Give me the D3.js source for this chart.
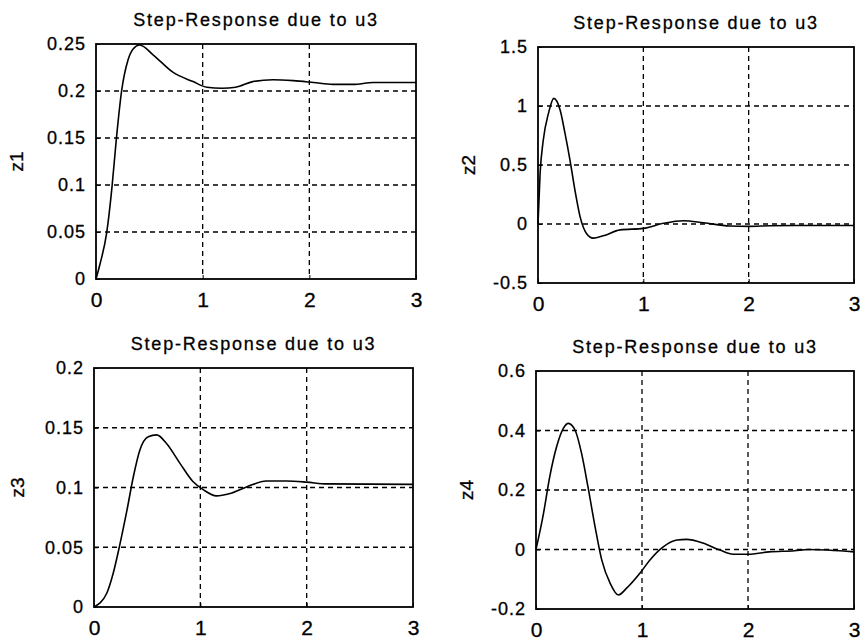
<!DOCTYPE html>
<html>
<head>
<meta charset="utf-8">
<script src="https://d3js.org/d3.v7.min.js"></script>
<style>
  html, body { margin: 0; padding: 0; background: #fff; }
  svg { display: block; }
  text { font-family: "Liberation Sans", Arial, sans-serif; fill: #000; }
</style>
</head>
<body>
<script>
// ---------- data ----------
const titleText = "Step-Response due to u3";
const yLabels = ["z1", "z2", "z3", "z4"];
const xTicks = [0, 1, 2, 3];

const t1 = [0, 0.04, 0.1, 0.15, 0.19, 0.24, 0.3, 0.35, 0.41, 0.54, 0.72, 0.91, 1.04, 1.18, 1.31, 1.47, 1.66, 1.85, 2.04, 2.22, 2.41, 2.6, 3.0];
const z1 = [0, 0.017, 0.049, 0.098, 0.148, 0.2, 0.233, 0.245, 0.249, 0.238, 0.220, 0.210, 0.204, 0.203, 0.204, 0.210, 0.212, 0.211, 0.209, 0.207, 0.207, 0.209, 0.209];
const yTicks1 = [0, 0.05, 0.1, 0.15, 0.2, 0.25];

const t2 = [0, 0.02, 0.05, 0.1, 0.15, 0.21, 0.256, 0.304, 0.35, 0.4, 0.46, 0.525, 0.62, 0.78, 1.0, 1.19, 1.38, 1.57, 1.82, 2.0, 2.2, 2.45, 3.0];
const z2 = [0, 0.43, 0.71, 0.94, 1.065, 0.966, 0.77, 0.54, 0.29, 0.06, -0.08, -0.12, -0.10, -0.05, -0.037, 0.006, 0.028, 0.011, -0.017, -0.02, -0.015, -0.013, -0.013];
const yTicks2 = [-0.5, 0, 0.5, 1, 1.5];

const t3 = [0, 0.12, 0.18, 0.245, 0.31, 0.37, 0.43, 0.51, 0.59, 0.68, 0.81, 0.93, 1.03, 1.15, 1.28, 1.44, 1.62, 1.81, 2.0, 2.19, 3.0];
const z3 = [0, 0.0115, 0.028, 0.053, 0.081, 0.109, 0.131, 0.1425, 0.144, 0.137, 0.120, 0.105, 0.098, 0.093, 0.095, 0.1007, 0.1054, 0.1054, 0.1045, 0.103, 0.1026];
const yTicks3 = [0, 0.05, 0.1, 0.15, 0.2];

const t4 = [0, 0.07, 0.13, 0.195, 0.258, 0.305, 0.37, 0.43, 0.49, 0.557, 0.62, 0.70, 0.777, 0.855, 0.98, 1.075, 1.20, 1.33, 1.42, 1.58, 1.735, 1.86, 2.0, 2.2, 2.44, 2.57, 3.0];
const z4 = [0, 0.12, 0.245, 0.346, 0.407, 0.424, 0.40, 0.323, 0.211, 0.077, -0.035, -0.114, -0.153, -0.13, -0.08, -0.035, 0.009, 0.032, 0.034, 0.021, -0.002, -0.016, -0.016, -0.008, -0.004, 0.0, -0.008];
const yTicks4 = [-0.2, 0, 0.2, 0.4, 0.6];

// ---------- layout ----------
const W = 861, H = 641;
const panels = [
  { t: t1, v: z1, yt: yTicks1, label: yLabels[0], box: [96, 44, 416, 279], labelX: 17 },
  { t: t2, v: z2, yt: yTicks2, label: yLabels[1], box: [538, 47, 854, 283], labelX: 469 },
  { t: t3, v: z3, yt: yTicks3, label: yLabels[2], box: [94, 368, 413, 607], labelX: 18 },
  { t: t4, v: z4, yt: yTicks4, label: yLabels[3], box: [536, 371, 854, 609], labelX: 467 }
];

const svg = d3.select("body").append("svg").attr("width", W).attr("height", H);
const fmt0 = d3.format("~g");
const fmt = d => fmt0(d).replace("\u2212", "-");
const FONT = "'Liberation Sans', Arial, sans-serif";

panels.forEach(p => {
  const [x0, y0, x1, y1] = p.box;
  const x = d3.scaleLinear().domain([0, 3]).range([x0, x1]);
  const y = d3.scaleLinear().domain([p.yt[0], p.yt[p.yt.length - 1]]).range([y1, y0]);
  const g = svg.append("g");

  // grid (dashed) at interior ticks
  g.selectAll(".gx").data(xTicks.slice(1, -1)).enter().append("line")
    .attr("x1", d => x(d)).attr("x2", d => x(d)).attr("y1", y0).attr("y2", y1)
    .attr("stroke", "#000").attr("stroke-width", 1.3).attr("stroke-dasharray", "5,4");
  g.selectAll(".gy").data(p.yt.slice(1, -1)).enter().append("line")
    .attr("x1", x0).attr("x2", x1).attr("y1", d => y(d)).attr("y2", d => y(d))
    .attr("stroke", "#000").attr("stroke-width", 1.3).attr("stroke-dasharray", "5,4");

  // axes via d3
  const xAxis = d3.axisBottom(x).tickValues(xTicks).tickSize(-4).tickPadding(13).tickFormat(fmt);
  const gx = g.append("g").attr("transform", `translate(0,${y1})`).call(xAxis);
  gx.select(".domain").remove();
  gx.selectAll("line").attr("stroke", "#000");
  gx.selectAll("text").attr("font-size", 21).attr("font-family", FONT).attr("fill", "#000")
    .attr("stroke", "#000").attr("stroke-width", 0.3);

  const yAxis = d3.axisLeft(y).tickValues(p.yt).tickSize(-4).tickPadding(10).tickFormat(fmt);
  const gy = g.append("g").attr("transform", `translate(${x0},0)`).call(yAxis);
  gy.select(".domain").remove();
  gy.selectAll("line").attr("stroke", "#000");
  gy.selectAll("text").attr("font-size", 18).attr("letter-spacing", 1)
    .attr("font-family", FONT).attr("fill", "#000")
    .attr("stroke", "#000").attr("stroke-width", 0.3);

  // box
  g.append("rect").attr("x", x0).attr("y", y0).attr("width", x1 - x0).attr("height", y1 - y0)
    .attr("fill", "none").attr("stroke", "#000").attr("stroke-width", 1.8);

  // curve
  const pts = p.t.map((tt, i) => [tt, p.v[i]]);
  g.append("path").datum(pts)
    .attr("d", d3.line().x(d => x(d[0])).y(d => y(d[1])).curve(d3.curveMonotoneX))
    .attr("fill", "none").attr("stroke", "#000").attr("stroke-width", 1.6);

  // title
  g.append("text").attr("x", (x0 + x1) / 2).attr("y", y0 - 18)
    .attr("text-anchor", "middle").attr("font-size", 18).attr("letter-spacing", 1.8)
    .attr("stroke", "#000").attr("stroke-width", 0.3)
    .text(titleText);

  // y label
  g.append("text").attr("transform", `translate(${p.labelX + 6},${(y0 + y1) / 2}) rotate(-90)`)
    .attr("text-anchor", "middle").attr("font-size", 19)
    .attr("stroke", "#000").attr("stroke-width", 0.3).text(p.label);
});
</script>
</body>
</html>
